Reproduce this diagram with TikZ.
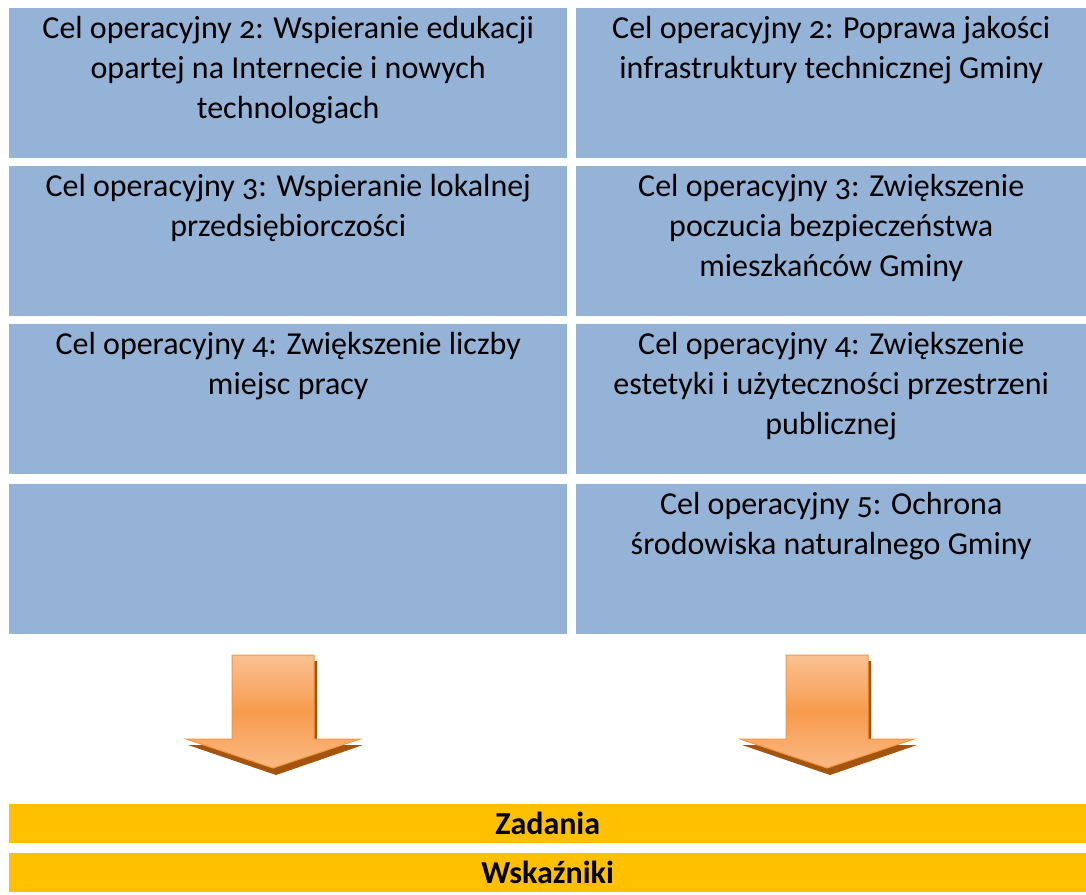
\documentclass[tikz,border=0pt]{standalone}
\usepackage{fontspec}
\setmainfont[Numbers=OldStyle]{Carlito}
\usetikzlibrary{positioning}
\definecolor{boxc}{HTML}{95B3D7}
\definecolor{barc}{HTML}{FFC000}
\definecolor{arrc}{HTML}{F79646}
\definecolor{arrlt}{HTML}{FAC292}
\definecolor{arrsh}{HTML}{A3540F}
\tikzset{
  cel/.style={fill=boxc,minimum height=150pt,inner sep=0pt,anchor=north west},
  txt/.style={align=center,font=\fontsize{32}{40}\selectfont,inner sep=0pt},
  bar/.style={fill=barc,minimum width=1077pt,minimum height=39pt,inner sep=0pt,anchor=north west,font=\fontsize{32}{34}\selectfont\bfseries},
  arr/.style={draw=arrc,line width=1pt,top color=arrlt,bottom color=arrlt!80!arrc,middle color=arrc!90!arrlt}
}
\begin{document}
\begin{tikzpicture}[x=1pt,y=-1pt]
\useasboundingbox (0,0) rectangle (1086,894);
% goal boxes
\node[cel,minimum width=558pt] (l1) at (9,8) {};
\node[cel,minimum width=558pt] (l2) at (9,166) {};
\node[cel,minimum width=558pt] (l3) at (9,324) {};
\node[cel,minimum width=558pt] (l4) at (9,484) {};
\node[cel,minimum width=510pt] (r1) at (576,8) {};
\node[cel,minimum width=510pt] (r2) at (576,166) {};
\node[cel,minimum width=510pt] (r3) at (576,324) {};
\node[cel,minimum width=510pt] (r4) at (576,484) {};
\node[txt,below=8pt of l1.north] (tl1) {Cel operacyjny 2: Wspieranie edukacji\\opartej na Internecie i nowych\\technologiach};
\node[txt,below=8pt of l2.north] (tl2) {Cel operacyjny 3: Wspieranie lokalnej\\przedsiębiorczości};
\node[txt,below=8pt of l3.north] (tl3) {Cel operacyjny 4: Zwiększenie liczby\\miejsc pracy};
\node[txt,below=8pt of r1.north] (tr1) {Cel operacyjny 2: Poprawa jakości\\infrastruktury technicznej Gminy};
\node[txt,below=8pt of r2.north] (tr2) {Cel operacyjny 3: Zwiększenie\\poczucia bezpieczeństwa\\mieszkańców Gminy};
\node[txt,below=8pt of r3.north] (tr3) {Cel operacyjny 4: Zwiększenie\\estetyki i użyteczności przestrzeni\\publicznej};
\node[txt,below=8pt of r4.north] (tr4) {Cel operacyjny 5: Ochrona\\środowiska naturalnego Gminy};
% arrows
\foreach \cx in {273,827}{
  \fill[arrsh] (\cx-38,661) -- (\cx+44,661) -- (\cx+44,745) -- (\cx+90,745) -- (\cx+3,775) -- (\cx-85,745) -- (\cx-38,745) -- cycle;
  \path[arr] (\cx-41,655) -- (\cx+41,655) -- (\cx+41,739) -- (\cx+87,739) -- (\cx,768) -- (\cx-87,739) -- (\cx-41,739) -- cycle;
}
% bars
\node[bar] (zad) at (9,804) {Zadania};
\node[bar,below=9pt of zad] (wsk) {Wskaźniki};
\end{tikzpicture}
\end{document}
